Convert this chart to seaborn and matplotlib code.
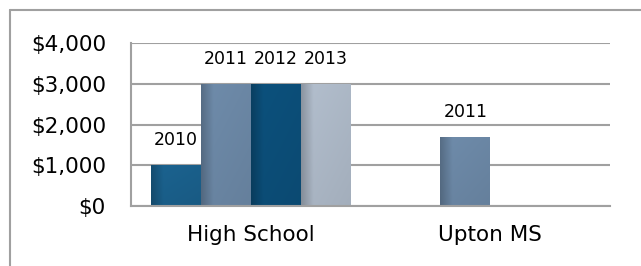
import numpy as np
import pandas as pd
import seaborn as sns
import matplotlib.pyplot as plt
from matplotlib.colors import to_rgb
from matplotlib.lines import Line2D

# chart values
schools = ['High School', 'High School', 'High School', 'High School', 'Upton MS']
years = ['2010', '2011', '2012', '2013', '2011']
amounts = [1000, 3000, 3000, 3000, 1700]
year_order = ['2010', '2011', '2012', '2013']
year_colors = ['#1b6390', '#6f8cab', '#0c517d', '#b3bfce']
ytick_vals = [0, 1000, 2000, 3000, 4000]

df = pd.DataFrame({'school': schools, 'year': years, 'amount': amounts})

sns.set_style('white')
plt.rcParams['font.family'] = ['DejaVu Sans']
plt.rcParams['text.color'] = 'black'
plt.rcParams['xtick.color'] = 'black'
plt.rcParams['ytick.color'] = 'black'

fig = plt.figure(figsize=(6.41, 2.66), dpi=100)
ax = fig.add_axes([131 / 641, 1 - 206 / 266, (610 - 131) / 641, (206 - 43) / 266])

sns.barplot(data=df, x='school', y='amount', hue='year', hue_order=year_order,
            palette=year_colors, width=0.835, gap=0, dodge=True, saturation=1,
            linewidth=0, legend=False, ax=ax)

ax.set_ylim(0, 4000)
ax.set_xlim(-0.5, 1.5)
ax.set_yticks(ytick_vals)
ax.set_yticklabels(['${:,}'.format(v) for v in ytick_vals], fontsize=15.5)
ax.tick_params(axis='y', length=0, pad=18, labelcolor='black')
ax.tick_params(axis='x', length=0, pad=14, labelsize=15.5, labelcolor='black')
ax.set_xlabel('')
ax.set_ylabel('')

grid_col = '#a0a0a0'
ax.yaxis.grid(True, color=grid_col, linewidth=1.5)
ax.set_axisbelow(True)
for side in ['top', 'right']:
    ax.spines[side].set_visible(False)
for side in ['left', 'bottom']:
    ax.spines[side].set_color(grid_col)
    ax.spines[side].set_linewidth(1.5)

# gradient fill on each bar (darker left edge, like the office style)
for year, cont in zip(year_order, ax.containers):
    for bar in cont:
        if np.isnan(bar.get_height()) or bar.get_height() == 0:
            continue
        base = np.array(to_rgb(bar.get_facecolor()))
        xs = np.linspace(0, 1, 60)
        shade = 0.78 + 0.22 * np.clip(xs / 0.25, 0, 1) - 0.04 * xs
        ys = np.linspace(0, 1, 30)[:, None]
        vshade = 0.95 + 0.05 * ys
        img = np.clip(base[None, None, :] * shade[None, :, None] * vshade[:, :, None], 0, 1)
        x0, y0 = bar.get_x(), bar.get_y()
        im = ax.imshow(img, extent=[x0, x0 + bar.get_width(), y0, y0 + bar.get_height()],
                       origin='lower', aspect='auto', interpolation='bilinear', zorder=2)
        im.set_clip_path(bar)
    ax.bar_label(cont, labels=[year] * len(cont), padding=11.5, fontsize=12.5, color='black')

ax.set_ylim(0, 4000)
ax.set_xlim(-0.5, 1.5)

# outer chart frame (only left and top show in the crop)
fig.add_artist(Line2D([9.5 / 641, 9.5 / 641], [0, 1 - 9.5 / 266], color=grid_col, linewidth=1.5,
                      transform=fig.transFigure))
fig.add_artist(Line2D([9.5 / 641, 1], [1 - 9.5 / 266, 1 - 9.5 / 266], color=grid_col, linewidth=1.5,
                      transform=fig.transFigure))

fig.savefig('out.png', dpi=100)
